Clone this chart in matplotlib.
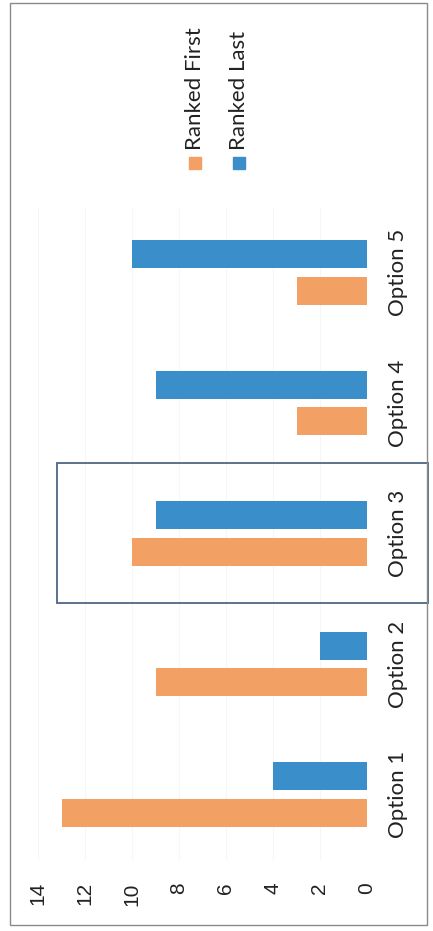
import matplotlib
matplotlib.use("Agg")
import matplotlib.pyplot as plt
from matplotlib.patches import Rectangle

categories = ["Option 1", "Option 2", "Option 3", "Option 4", "Option 5"]
ranked_first = [13, 9, 10, 3, 3]
ranked_last = [4, 2, 9, 9, 10]
series_names = ["Ranked First", "Ranked Last"]
value_ticks = [0, 2, 4, 6, 8, 10, 12, 14]

ORANGE = "#F2A064"
BLUE = "#3A8FCB"

W, H = 433, 931
fig = plt.figure(figsize=(W / 100, H / 100), dpi=100)
fig.patch.set_facecolor("white")

def fx(px):
    return px / W

def fy(py):
    return 1 - py / H

left, right, top, bottom = 38, 367, 207, 860
ax = fig.add_axes([fx(left), fy(bottom), fx(right) - fx(left), fy(top) - fy(bottom)])

pos = list(range(len(categories)))
bw = 0.215
off = 0.14
ax.barh([p - off for p in pos], ranked_first, height=bw, color=ORANGE, zorder=3)
ax.barh([p + off for p in pos], ranked_last, height=bw, color=BLUE, zorder=3)

ax.set_xlim(14, 0)
ax.set_ylim(-0.5, len(categories) - 0.5)
ax.set_xticks(value_ticks)
ax.set_xticklabels([str(v) for v in value_ticks], rotation=90,
                   fontsize=15, family="Liberation Sans", color="#222222")
ax.tick_params(axis="x", length=0, pad=16)
ax.yaxis.tick_right()
ax.set_yticks(pos)
ax.set_yticklabels(categories, rotation=90, fontsize=16, family="Lato",
                   color="#222222", va="center")
ax.tick_params(axis="y", length=0, pad=15)
ax.grid(axis="x", color="#f6f6f6", linewidth=0.8, zorder=0)
for s in ax.spines.values():
    s.set_visible(False)

# legend (rotated)
leg_x = [195, 239]
for name, col, x in zip(series_names, [ORANGE, BLUE], leg_x):
    fig.patches.append(Rectangle((fx(x - 6), fy(169)), fx(12), fy(157) - fy(169),
                                 transform=fig.transFigure, color=col))
    fig.text(fx(x), fy(150), name, rotation=90, ha="center", va="bottom",
             fontsize=16, family="Lato", color="#222222")

# highlight box around Option 3
fig.patches.append(Rectangle((fx(57), fy(603)), fx(428) - fx(57), fy(463) - fy(603),
                             transform=fig.transFigure, fill=False,
                             edgecolor="#4f6584", linewidth=1.3))

# outer border
fig.patches.append(Rectangle((fx(10), fy(925)), fx(427) - fx(10), fy(3) - fy(925),
                             transform=fig.transFigure, fill=False,
                             edgecolor="#8a8a8a", linewidth=1.0))

fig.savefig("out.png", dpi=100)
